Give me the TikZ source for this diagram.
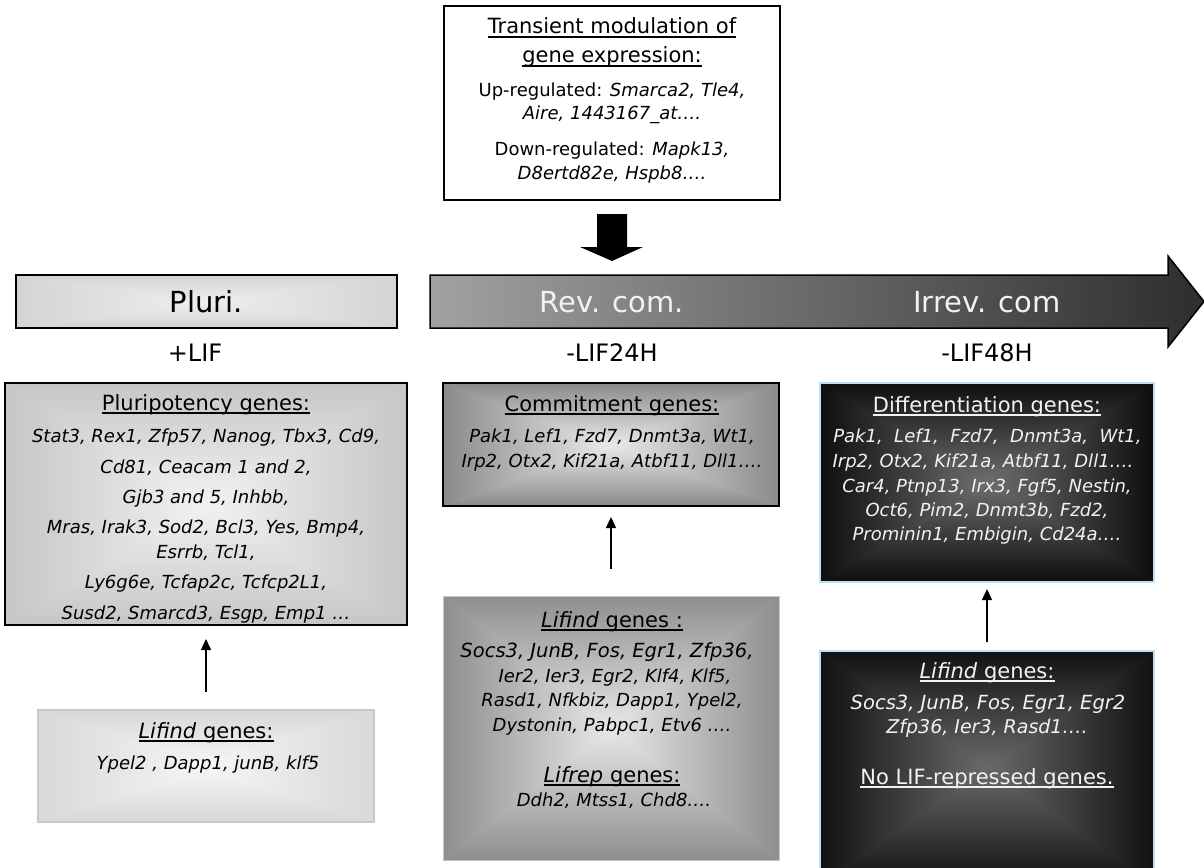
\documentclass[tikz,border=0pt]{standalone}
\usepackage{fontspec}
\setmainfont{DejaVu Sans}
\usetikzlibrary{fit,arrows.meta}

\definecolor{plA}{HTML}{F2F2F2}\definecolor{plB}{HTML}{C6C6C6}
\definecolor{pbA}{HTML}{EEEEEE}\definecolor{pbB}{HTML}{D4D4D4}
\definecolor{cmA}{HTML}{EAEAEA}\definecolor{cmB}{HTML}{8A8A8A}
\definecolor{lmA}{HTML}{E8E8E8}\definecolor{lmB}{HTML}{8E8E8E}
\definecolor{dfA}{HTML}{6E6E6E}\definecolor{dfB}{HTML}{0E0E0E}
\definecolor{lrA}{HTML}{6A6A6A}\definecolor{lrB}{HTML}{111111}
\definecolor{llA}{HTML}{F6F6F6}\definecolor{llB}{HTML}{D8D8D8}
\definecolor{edgeblue}{HTML}{BFE0F2}
\definecolor{edgegray}{HTML}{C8C8C8}
\definecolor{txtw}{HTML}{F2F2F2}
\definecolor{arL}{HTML}{A2A2A2}\definecolor{arR}{HTML}{2E2E2E}

\newcommand\myul[1]{\setbox0\hbox{#1}\rlap{\rule[-0.17em]{\wd0}{0.085em}}\box0}

% name, x1, y1, x2, y2, inner colour, outer colour
\newcommand\gbox[7]{%
  \node[fit={(#2,#3) (#4,#5)}, frame] (#1) {};
  \fill[#6!50!#7] (#1.north west) rectangle (#1.south east);
  \shade[top color=#7,bottom color=#6] (#1.north west) -- (#1.north east) -- (#1.center) -- cycle;
  \shade[bottom color=#7,top color=#6] (#1.south west) -- (#1.south east) -- (#1.center) -- cycle;
  \shade[left color=#7,right color=#6] (#1.north west) -- (#1.south west) -- (#1.center) -- cycle;
  \shade[right color=#7,left color=#6] (#1.north east) -- (#1.south east) -- (#1.center) -- cycle;
}

\tikzset{
  frame/.style={inner sep=0pt, outer sep=0pt},
  hd/.style={font=\fontsize{21}{25}\selectfont, anchor=base, inner sep=0pt},
  gn/.style={font=\fontsize{18}{22}\selectfont\itshape, anchor=base, inner sep=0pt},
  rm/.style={font=\fontsize{18}{22}\selectfont, anchor=base, inner sep=0pt},
  bigl/.style={font=\fontsize{29}{34}\selectfont, anchor=base, inner sep=0pt},
  stg/.style={font=\fontsize{24}{28}\selectfont, anchor=base, inner sep=0pt},
  thinarrow/.style={line width=1.4pt, -{Triangle[width=10pt,length=11pt]}},
  blackedge/.style={draw=black, line width=1.5pt},
}

\begin{document}
\begin{tikzpicture}[x=1pt,y=-1pt]
\useasboundingbox (0,0) rectangle (1204,867);

% ---------- top box ----------
\node[fit={(444,6) (780,200)}, frame, fill=white, blackedge] (top) {};
\node[hd] (t1) at (612,34) {\myul{Transient modulation of}};
\node[hd] (t2) at (612,63) {\myul{gene expression:}};
\node[rm] (t3) at (612,96) {Up-regulated: \textit{Smarca2, Tle4,}};
\node[gn] (t4) at (612,119) {Aire, 1443167\_at….};
\node[rm] (t5) at (612,155) {Down-regulated: \textit{Mapk13,}};
\node[gn] (t6) at (612,179) {D8ertd82e, Hspb8….};

% block arrow down
\fill[black] (597,214) -- (627,214) -- (627,247) -- (643,247) -- (612,261) -- (580,247) -- (597,247) -- cycle;

% ---------- timeline arrow ----------
\shade[left color=arL, right color=arR] (430,275) -- (1168,275) -- (1168,256) -- (1204,301.5) -- (1168,347) -- (1168,328) -- (430,328) -- cycle;
\draw[line width=1.5pt, line join=miter] (430,275) -- (1168,275) -- (1168,256) -- (1204,301.5) -- (1168,347) -- (1168,328) -- (430,328) -- cycle;

% Pluri bar
\gbox{pbar}{16}{275}{397}{328}{pbA}{pbB}
\draw[blackedge] (pbar.north west) rectangle (pbar.south east);

\node[bigl] (tPluri) at (206.5,312) {Pluri.};
\node[bigl, text=txtw] (tRev) at (612,312) {Rev. com.};
\node[bigl, text=txtw] (tIrr) at (987,312) {Irrev. com};

\node[stg] (sL) at (195,361) {+LIF};
\node[stg] (sM) at (612,361) {-LIF24H};
\node[stg] (sR) at (987,361) {-LIF48H};

% ---------- pluripotency ----------
\gbox{pluri}{5}{383}{407}{625}{plA}{plB}
\draw[blackedge] (pluri.north west) rectangle (pluri.south east);
\node[hd] (p0) at (206,410) {\myul{Pluripotency genes:}};
\node[gn] (p1) at (206,442) {Stat3, Rex1, Zfp57, Nanog, Tbx3, Cd9,};
\node[gn] (p2) at (206,473) {Cd81, Ceacam 1 and 2,};
\node[gn] (p3) at (206,503) {Gjb3 and 5, Inhbb,};
\node[gn] (p4) at (206,533) {Mras, Irak3, Sod2, Bcl3, Yes, Bmp4,};
\node[gn] (p5) at (206,558) {Esrrb, Tcl1,};
\node[gn] (p6) at (206,588) {Ly6g6e, Tcfap2c, Tcfcp2L1,};
\node[gn] (p7) at (206,619) {Susd2, Smarcd3, Esgp, Emp1 …};

% ---------- left lifind ----------
\gbox{lifL}{38}{710}{374}{822}{llA}{llB}
\draw[draw=edgegray, line width=1.5pt] (lifL.north west) rectangle (lifL.south east);
\node[hd] (l0) at (206,738) {\myul{\textit{Lifind} genes:}};
\node[gn] (l1) at (208,769) {Ypel2 , Dapp1, junB, klf5};

% ---------- commitment ----------
\gbox{commit}{443}{383}{779}{506}{cmA}{cmB}
\draw[blackedge] (commit.north west) rectangle (commit.south east);
\node[hd] (c0) at (612,411) {\myul{Commitment genes:}};
\node[gn] (c1) at (612,442) {Pak1, Lef1, Fzd7, Dnmt3a, Wt1,};
\node[gn] (c2) at (612,467) {Irp2, Otx2, Kif21a, Atbf11, Dll1….};

% ---------- middle lifind ----------
\gbox{lifM}{443}{596}{779}{860}{lmA}{lmB}
\draw[draw=gray!45, line width=0.8pt] (lifM.north west) rectangle (lifM.south east);
\node[hd] (m0) at (612,627) {\myul{\textit{Lifind} genes :}};
\node[gn, font=\fontsize{19.5}{22}\selectfont\itshape] (m1) at (607,657) {Socs3, JunB, Fos, Egr1, Zfp36,};
\node[gn] (m2) at (615,682) {Ier2, Ier3, Egr2, Klf4, Klf5,};
\node[gn] (m3) at (612,706) {Rasd1, Nfkbiz, Dapp1, Ypel2,};
\node[gn] (m4) at (612,731) {Dystonin, Pabpc1, Etv6 ….};
\node[hd] (m5) at (612,782) {\myul{\textit{Lifrep} genes:}};
\node[gn] (m6) at (614,806) {Ddh2, Mtss1, Chd8….};

% ---------- differentiation ----------
\gbox{diff}{820}{383}{1154}{582}{dfA}{dfB}
\draw[draw=edgeblue, line width=1.5pt] (diff.north west) rectangle (diff.south east);
\node[hd, text=txtw] (d0) at (987,412) {\myul{Differentiation genes:}};
\node[gn, text=txtw] (d1) at (987.5,442) {Pak1,\ \ Lef1,\ \ Fzd7,\ \ Dnmt3a,\ \ Wt1,};
\node[gn, text=txtw] (d2) at (983,467) {Irp2, Otx2, Kif21a, Atbf11, Dll1….};
\node[gn, text=txtw] (d3) at (987,492) {Car4, Ptnp13, Irx3, Fgf5, Nestin,};
\node[gn, text=txtw] (d4) at (987,516) {Oct6, Pim2, Dnmt3b, Fzd2,};
\node[gn, text=txtw] (d5) at (987,540) {Prominin1, Embigin, Cd24a….};

% ---------- right lifind ----------
\gbox{lifR}{820}{651}{1154}{885}{lrA}{lrB}
\draw[draw=edgeblue, line width=1.5pt] (lifR.north west) rectangle (lifR.south east);
\node[hd, text=txtw] (r0) at (987,678) {\myul{\textit{Lifind} genes:}};
\node[gn, text=txtw, font=\fontsize{19.5}{22}\selectfont\itshape] (r1) at (988,709) {Socs3, JunB, Fos, Egr1, Egr2};
\node[gn, text=txtw, font=\fontsize{19}{22}\selectfont\itshape] (r2) at (987,733) {Zfp36, Ier3, Rasd1….};
\node[hd, text=txtw] (r3) at (987,784) {\myul{No LIF-repressed genes.}};

% ---------- connectors ----------
\draw[thinarrow, shorten <=18pt, shorten >=14pt] (lifL.north) -- (pluri.south);
\draw[thinarrow, shorten <=27pt, shorten >=11pt] (lifM.north) -- (commit.south);
\draw[thinarrow, shorten <=9pt, shorten >=7pt] (lifR.north) -- (diff.south);
\end{tikzpicture}
\end{document}
